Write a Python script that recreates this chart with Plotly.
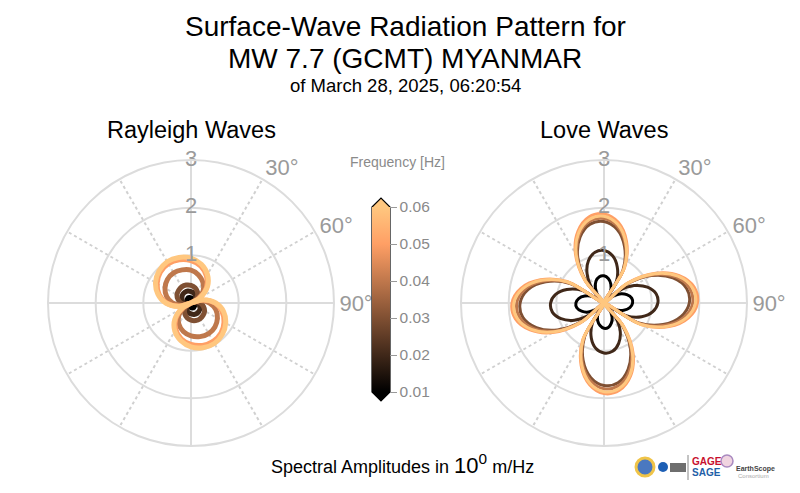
import plotly.graph_objects as go

# ── data ────────────────────────────────────────────────────
FREQS = [0.01, 0.02, 0.03, 0.04, 0.05, 0.06]

RAYLEIGH_THETA = [0, 15, 30, 45, 60, 66, 75, 90, 105, 120, 135, 150, 165, 180,
                  195, 210, 225, 240, 246, 255, 270, 285, 300, 315, 330, 345, 360]
RAYLEIGH_F01 = [0.11, 0.10, 0.08, 0.06, 0.02, 0, 0.03, 0.06, 0.08, 0.09, 0.10, 0.11, 0.11, 0.10,
                0.09, 0.08, 0.05, 0.02, 0, 0.03, 0.06, 0.09, 0.10, 0.11, 0.12, 0.12, 0.11]
RAYLEIGH_F02 = [0.24, 0.22, 0.18, 0.13, 0.05, 0, 0.07, 0.13, 0.18, 0.22, 0.24, 0.25, 0.25, 0.23,
                0.21, 0.17, 0.12, 0.05, 0, 0.07, 0.14, 0.19, 0.22, 0.25, 0.26, 0.26, 0.24]
RAYLEIGH_F03 = [0.37, 0.33, 0.27, 0.19, 0.08, 0, 0.10, 0.20, 0.27, 0.33, 0.36, 0.38, 0.38, 0.36,
                0.32, 0.26, 0.19, 0.08, 0, 0.11, 0.21, 0.28, 0.34, 0.37, 0.39, 0.39, 0.37]
RAYLEIGH_F04 = [0.69, 0.61, 0.50, 0.36, 0.15, 0, 0.20, 0.39, 0.54, 0.64, 0.71, 0.74, 0.73, 0.69,
                0.62, 0.51, 0.36, 0.15, 0, 0.20, 0.39, 0.53, 0.63, 0.70, 0.73, 0.72, 0.69]
RAYLEIGH_F05 = [0.89, 0.80, 0.65, 0.46, 0.20, 0, 0.25, 0.50, 0.67, 0.80, 0.89, 0.93, 0.92, 0.87,
                0.78, 0.64, 0.45, 0.19, 0, 0.26, 0.51, 0.69, 0.82, 0.91, 0.95, 0.94, 0.89]
RAYLEIGH_F06 = [0.94, 0.84, 0.69, 0.49, 0.21, 0, 0.27, 0.52, 0.71, 0.84, 0.93, 0.98, 0.97, 0.92,
                0.82, 0.68, 0.48, 0.20, 0, 0.27, 0.53, 0.72, 0.86, 0.95, 1.00, 0.99, 0.94]

LOVE_THETA = [0, 10, 20, 30, 42, 50, 60, 70, 80, 90, 100, 110, 120, 132, 140, 150, 160, 170, 180,
              190, 200, 210, 222, 230, 240, 250, 260, 270, 280, 290, 300, 312, 320, 330, 340, 350, 360]
LOVE_F01 = [0.57, 0.52, 0.42, 0.27, 0, 0.20, 0.38, 0.51, 0.59, 0.60, 0.55, 0.44, 0.28, 0,
            0.18, 0.34, 0.45, 0.52, 0.53, 0.48, 0.39, 0.25, 0, 0.20, 0.38, 0.50, 0.58, 0.59,
            0.54, 0.43, 0.27, 0, 0.19, 0.36, 0.49, 0.56, 0.57]
LOVE_F02 = [1.10, 1.01, 0.81, 0.52, 0, 0.38, 0.73, 0.97, 1.11, 1.13, 1.04, 0.84, 0.53, 0,
            0.35, 0.68, 0.90, 1.03, 1.05, 0.97, 0.78, 0.49, 0, 0.38, 0.72, 0.96, 1.10, 1.12,
            1.03, 0.83, 0.53, 0, 0.37, 0.71, 0.95, 1.08, 1.10]
LOVE_F03 = [1.71, 1.57, 1.26, 0.80, 0, 0.60, 1.15, 1.54, 1.76, 1.79, 1.64, 1.32, 0.84, 0,
            0.58, 1.11, 1.48, 1.70, 1.73, 1.59, 1.28, 0.81, 0, 0.59, 1.13, 1.51, 1.73, 1.76,
            1.62, 1.30, 0.82, 0, 0.57, 1.10, 1.47, 1.68, 1.71]
LOVE_F04 = [1.77, 1.63, 1.31, 0.83, 0, 0.62, 1.19, 1.60, 1.82, 1.86, 1.71, 1.37, 0.87, 0,
            0.60, 1.15, 1.54, 1.76, 1.80, 1.65, 1.33, 0.84, 0, 0.61, 1.17, 1.57, 1.79, 1.83,
            1.68, 1.35, 0.86, 0, 0.59, 1.13, 1.52, 1.74, 1.77]
LOVE_F05 = [1.87, 1.72, 1.38, 0.87, 0, 0.66, 1.25, 1.68, 1.92, 1.96, 1.80, 1.45, 0.92, 0,
            0.64, 1.22, 1.63, 1.86, 1.90, 1.74, 1.40, 0.89, 0, 0.65, 1.24, 1.65, 1.89, 1.93,
            1.77, 1.42, 0.90, 0, 0.63, 1.20, 1.60, 1.83, 1.87]
LOVE_F06 = [1.82, 1.67, 1.34, 0.85, 0, 0.64, 1.23, 1.65, 1.88, 1.92, 1.76, 1.42, 0.90, 0,
            0.62, 1.19, 1.60, 1.82, 1.86, 1.71, 1.37, 0.87, 0, 0.63, 1.21, 1.62, 1.85, 1.89,
            1.73, 1.39, 0.88, 0, 0.61, 1.17, 1.56, 1.78, 1.82]

RADIAL_TICKS = [1, 2, 3]
ANGLE_TICKS = [0, 30, 60, 90, 120, 150, 180, 210, 240, 270, 300, 330]
ANGLE_LABELS = ["", "30°", "60°", "90°", "", "", "", "", "", "", "", ""]
CBAR_TICKS = [0.01, 0.02, 0.03, 0.04, 0.05, 0.06]

RAYLEIGH = [RAYLEIGH_F01, RAYLEIGH_F02, RAYLEIGH_F03, RAYLEIGH_F04, RAYLEIGH_F05, RAYLEIGH_F06]
LOVE = [LOVE_F01, LOVE_F02, LOVE_F03, LOVE_F04, LOVE_F05, LOVE_F06]

FONT = "Liberation Sans, Arial, sans-serif"
GRAY = "#9a9a9a"
GRID = "#dcdcdc"
# the page body keeps its 8px margin, so the figure is sized to the rest of the window
OFF = 8
W, H = 800 - OFF, 493 - OFF

# matplotlib "copper"
COPPER = [[0.0, "rgb(0,0,0)"], [0.8, "rgb(255,159,101)"], [1.0, "rgb(255,199,127)"]]


def copper(f):
    x = (f - FREQS[0]) / (FREQS[-1] - FREQS[0])
    r, g, b = min(1.0, 1.25 * x), 0.7812 * x, 0.4975 * x
    return f"rgb({round(255 * r)},{round(255 * g)},{round(255 * b)})"


def px(x):
    # window pixel -> paper
    return (x - OFF) / W


def py(y):
    return 1 - (y - OFF) / H


fig = go.Figure()

for sub in ["polar", "polar2"]:
    # solid N-S / E-W lines over the dotted grid
    for th in ([0, 180], [90, 270]):
        fig.add_trace(go.Scatterpolar(r=[3, 3], theta=th, mode="lines", subplot=sub,
                                      line=dict(color=GRID, width=2), hoverinfo="skip",
                                      showlegend=False))

for f, amp in zip(FREQS, RAYLEIGH):
    fig.add_trace(go.Scatterpolar(r=amp, theta=RAYLEIGH_THETA, mode="lines", subplot="polar",
                                  line=dict(color=copper(f), width=5, shape="spline"),
                                  name=f"{f:.2f} Hz", showlegend=False))
for f, amp in zip(FREQS, LOVE):
    fig.add_trace(go.Scatterpolar(r=amp, theta=LOVE_THETA, mode="lines", subplot="polar2",
                                  line=dict(color=copper(f), width=3, shape="spline"),
                                  name=f"{f:.2f} Hz", showlegend=False))

for sub in ["polar", "polar2"]:
    fig.add_trace(go.Scatterpolar(r=RADIAL_TICKS, theta=[0] * len(RADIAL_TICKS), mode="text",
                                  text=[str(t) for t in RADIAL_TICKS], subplot=sub,
                                  textfont=dict(size=22, color=GRAY, family=FONT),
                                  cliponaxis=False, hoverinfo="skip", showlegend=False))

# colour bar carrier
fig.add_trace(go.Scatterpolar(
    r=[None], theta=[None], mode="markers", subplot="polar", showlegend=False, hoverinfo="skip",
    marker=dict(color=[FREQS[0]], colorscale=COPPER, cmin=FREQS[0], cmax=FREQS[-1], showscale=True,
                colorbar=dict(x=px(372), xanchor="left", y=py(299.5), yanchor="middle",
                              len=185, lenmode="pixels", thickness=18, thicknessmode="pixels",
                              xpad=0, ypad=0, outlinewidth=0, ticks="outside", ticklen=7,
                              tickcolor="#999", tickwidth=1, tickvals=CBAR_TICKS,
                              ticktext=[f"{t:.2f}" for t in CBAR_TICKS],
                              tickfont=dict(size=15.5, color="#8a8a8a", family=FONT)))))

polar_style = dict(
    bgcolor="white",
    radialaxis=dict(range=[0, 3], tickvals=RADIAL_TICKS, showticklabels=False, ticks="",
                    showline=False, gridcolor=GRID, gridwidth=2),
    angularaxis=dict(rotation=90, direction="clockwise", tickmode="array", tickvals=ANGLE_TICKS,
                     ticktext=ANGLE_LABELS, ticks="", showline=True, linecolor=GRID, linewidth=2,
                     gridcolor="#d0d0d0", gridwidth=2, griddash="dot",
                     tickfont=dict(size=22, color=GRAY, family=FONT)),
)
fig.update_layout(
    polar=dict(domain=dict(x=[px(48), px(334)], y=[py(446), py(160)]), **polar_style),
    polar2=dict(domain=dict(x=[px(461), px(747)], y=[py(446), py(160)]), **polar_style),
)

# colour bar end triangles and outline
xl, xr, xm = px(372), px(390), px(381)
yt, yb = py(207), py(392)
shapes = [
    dict(type="path", xref="paper", yref="paper", path=f"M{xl},{yt} L{xm},{py(198)} L{xr},{yt} Z",
         fillcolor=copper(FREQS[-1]), line=dict(width=0)),
    dict(type="path", xref="paper", yref="paper", path=f"M{xl},{yb} L{xm},{py(401)} L{xr},{yb} Z",
         fillcolor=copper(FREQS[0]), line=dict(width=0)),
    dict(type="path", xref="paper", yref="paper",
         path=f"M{xl},{yt} L{xm},{py(198)} L{xr},{yt} L{xr},{yb} L{xm},{py(401)} L{xl},{yb} Z",
         line=dict(color="black", width=1.2)),
    # logo strip
    dict(type="circle", xref="paper", yref="paper", x0=px(636), x1=px(654), y0=py(476), y1=py(458),
         fillcolor="#4a78c0", line=dict(color="#f0c448", width=3)),
    dict(type="circle", xref="paper", yref="paper", x0=px(658), x1=px(668), y0=py(472), y1=py(462),
         fillcolor="#1d5fb5", line=dict(width=0)),
    dict(type="rect", xref="paper", yref="paper", x0=px(670), x1=px(686), y0=py(472), y1=py(463),
         fillcolor="#6e6e6e", line=dict(width=0)),
    dict(type="line", xref="paper", yref="paper", x0=px(688), x1=px(688), y0=py(480), y1=py(455),
         line=dict(color="#888", width=1)),
    dict(type="circle", xref="paper", yref="paper", x0=px(721), x1=px(733), y0=py(467), y1=py(455),
         fillcolor="#f0d4e0", line=dict(color="#a98ac0", width=1.5)),
]

ann = []


def text(x, y, s, size, color="black", **kw):
    ann.append(dict(x=px(x), y=py(y), xref="paper", yref="paper", text=s, showarrow=False,
                    xanchor=kw.pop("xanchor", "center"), yanchor="middle",
                    font=dict(size=size, color=color, family=FONT), **kw))


text(405, 27, "Surface-Wave Radiation Pattern for", 28)
text(405, 59, "MW 7.7 (GCMT) MYANMAR", 28)
text(405, 86, "of March 28, 2025, 06:20:54", 18.5)
text(191, 130, "Rayleigh Waves", 23.5)
text(604, 130, "Love Waves", 23.5)
text(397, 162, "Frequency [Hz]", 14, "#8a8a8a")
text(402, 464, "Spectral Amplitudes in <span style='font-size:22px'>10<sup>0</sup></span> m/Hz", 18)
text(690, 461, "<b>GAGE</b>", 10, "#c8102e", xanchor="left")
text(690, 472, "<b>SAGE</b>", 10, "#1f5fa8", xanchor="left")
text(734, 469, "<b>EarthScope</b>", 7, "#444", xanchor="left")
text(736, 476, "Consortium", 6, "#aaa", xanchor="left")

fig.update_layout(width=W, height=H, margin=dict(l=0, r=0, t=0, b=0), paper_bgcolor="white",
                  font=dict(family=FONT), shapes=shapes, annotations=ann, showlegend=False)

fig.write_html("out.html")
